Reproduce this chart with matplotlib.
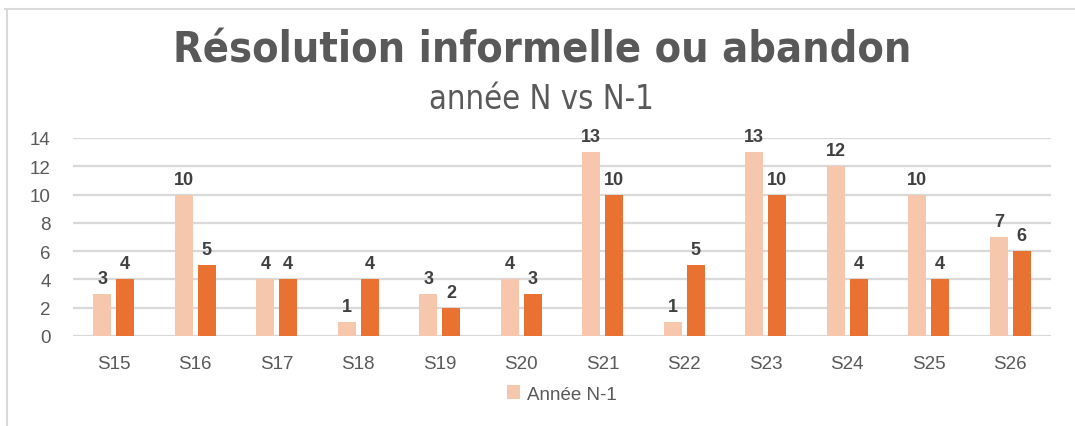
import numpy as np
from matplotlib import pyplot as plt

semaines = ['S15', 'S16', 'S17', 'S18', 'S19', 'S20', 'S21', 'S22', 'S23', 'S24', 'S25', 'S26']
annee_n1 = [3, 10, 4, 1, 3, 4, 13, 1, 13, 12, 10, 7]
annee_n = [4, 5, 4, 4, 2, 3, 10, 5, 10, 4, 4, 6]
yticks = [0, 2, 4, 6, 8, 10, 12, 14]

c_n1 = '#F6C6AD'
c_n = '#E97132'
gris = '#595959'

plt.rcParams['font.family'] = ['Liberation Sans', 'DejaVu Sans']

fig = plt.figure(figsize=(10.75, 4.27), dpi=100)
# cadre du graphique (bords haut et gauche visibles)
fig.add_artist(plt.Line2D([0.005, 1.0], [0.977, 0.977], color='#D9D9D9', lw=1.5))
fig.add_artist(plt.Line2D([0.0065, 0.0065], [0.0, 0.977], color='#D9D9D9', lw=1.5))

ax = fig.add_axes([73/1075, 1-337/427, 978/1075, 198/427])
x = np.arange(len(semaines))
w = 0.22
b1 = ax.bar(x - 0.14, annee_n1, w, color=c_n1, label='Année N-1', zorder=3)
b2 = ax.bar(x + 0.14, annee_n, w, color=c_n, label='Année N', zorder=3)
for bars in (b1, b2):
    ax.bar_label(bars, padding=5, fontsize=13, fontweight='bold', color='#404040')

ax.set_xlim(-0.5, len(semaines) - 0.5)
ax.set_ylim(0, 14)
ax.set_yticks(yticks)
ax.set_xticks(x)
ax.set_xticklabels(semaines)
ax.tick_params(axis='both', length=0, labelsize=13.5, labelcolor=gris)
ax.tick_params(axis='x', pad=14)
ax.tick_params(axis='y', pad=16)
ax.grid(axis='y', color='#D9D9D9', lw=1.6, zorder=0)
for s in ax.spines.values():
    s.set_visible(False)

fig.text(0.504, 0.882, 'Résolution informelle ou abandon', ha='center', va='center',
         fontsize=31, fontweight='bold', color=gris, family='DejaVu Sans',
         stretch='condensed')
fig.text(0.504, 0.768, 'année N vs N-1', ha='center', va='center',
         fontsize=23.5, color=gris, family='DejaVu Sans', stretch='condensed')

ax.legend(handles=[b1], loc='center', bbox_to_anchor=(0.5, 1 - (395-139)/198),
          frameon=False, fontsize=13.5, labelcolor=gris, handlelength=0.7,
          handleheight=0.7, handletextpad=0.4)

plt.savefig('out.png', dpi=100)
